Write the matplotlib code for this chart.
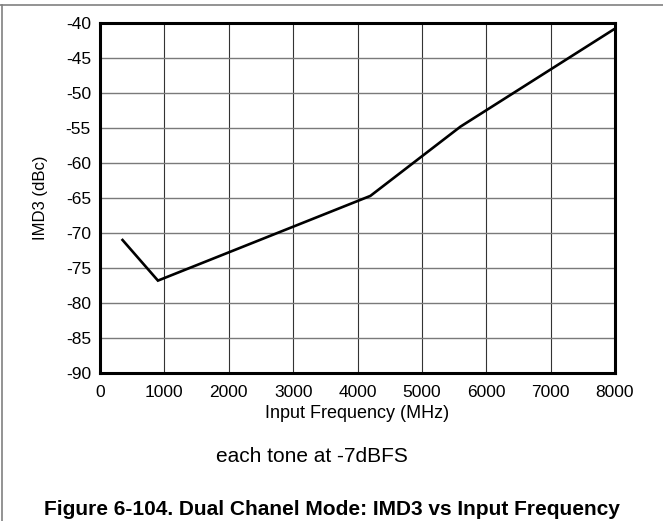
import matplotlib
matplotlib.use('Agg')
from matplotlib import pyplot as plt
from matplotlib.lines import Line2D

plt.rcParams['font.family'] = ['Liberation Sans', 'DejaVu Sans']

# IMD3 vs input frequency
freq_mhz = [350, 900, 4200, 5600, 8000]
imd3_dbc = [-71.0, -76.8, -64.7, -54.8, -40.8]

xticks = [0, 1000, 2000, 3000, 4000, 5000, 6000, 7000, 8000]
yticks = [-90, -85, -80, -75, -70, -65, -60, -55, -50, -45, -40]

fig = plt.figure(figsize=(6.63, 5.21), dpi=100)
ax = fig.add_axes([100/663, 1-373/521, 515/663, 350/521])

ax.plot(freq_mhz, imd3_dbc, color='black', linewidth=1.9, solid_joinstyle='miter')

ax.set_xlim(0, 8000)
ax.set_ylim(-90, -40)
ax.set_xticks(xticks)
ax.set_yticks(yticks)
ax.set_xticklabels([str(v) for v in xticks])
ax.set_yticklabels([str(v) for v in yticks])
ax.tick_params(axis='both', length=0, labelsize=12.5, colors='black')
ax.tick_params(axis='x', pad=8.4)
ax.tick_params(axis='y', pad=6.5)

ax.grid(True, axis='y', color='#7a7a7a', linewidth=1.0)
ax.grid(True, axis='x', color='#333333', linewidth=0.8)
ax.set_axisbelow(True)
for sp in ax.spines.values():
    sp.set_linewidth(2.2)
    sp.set_color('black')

ax.set_xlabel('Input Frequency (MHz)', fontsize=13, va='center')
ax.xaxis.set_label_coords(0.5, (373 - 414) / 350)
ax.set_ylabel('IMD3 (dBc)', fontsize=12, va='center')
ax.yaxis.set_label_coords((41 - 100) / 515, 0.5)

fig.text(312/663, 1-462/521, 'each tone at -7dBFS', fontsize=15,
         ha='center', va='baseline')
fig.text(332/663, 1-515/521, 'Figure 6-104. Dual Chanel Mode: IMD3 vs Input Frequency',
         fontsize=15, fontweight='bold', ha='center', va='baseline')

# page frame: top rule and left rule
fig.add_artist(Line2D([0, 1], [1-5/521, 1-5/521], transform=fig.transFigure,
                      color='#808080', linewidth=1.2))
fig.add_artist(Line2D([1.5/663, 1.5/663], [0, 1-5/521], transform=fig.transFigure,
                      color='#808080', linewidth=1.2))

fig.savefig('out.png', dpi=100)
